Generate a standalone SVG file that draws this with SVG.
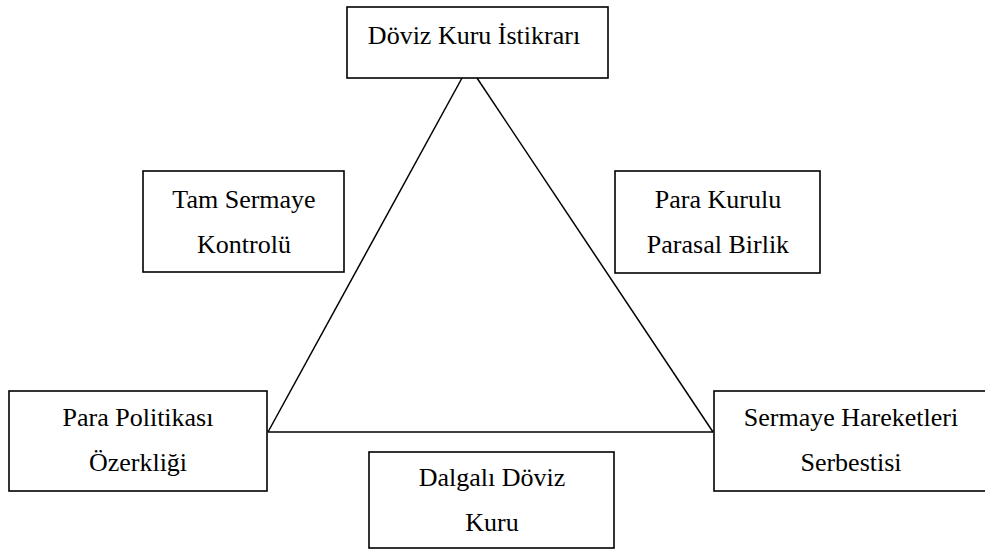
<svg xmlns="http://www.w3.org/2000/svg" width="985" height="550" viewBox="0 0 985 550">
<style>
rect{fill:#fff;stroke:#000;stroke-width:1.6}
line{stroke:#000;stroke-width:1.5}
.t{font-family:'Liberation Serif','Times New Roman',Tinos,'DejaVu Serif',serif;font-size:26px;fill:#000;text-anchor:middle}
</style>
<rect x="0" y="0" width="985" height="550" style="stroke:none"/>
<g id="connectors">
<line x1="462" y1="78" x2="268" y2="432"/>
<line x1="477" y1="78" x2="713" y2="432"/>
<line x1="268" y1="432" x2="713" y2="432"/>
</g>
<g id="top">
<rect x="347" y="7" width="261" height="71"/>
<text class="t" x="474" y="44">Döviz Kuru İstikrarı</text>
</g>
<g id="tam">
<rect x="143" y="171" width="201" height="101"/>
<text class="t" x="244" y="208">Tam Sermaye</text>
<text class="t" x="244" y="253">Kontrolü</text>
</g>
<g id="para-kurulu">
<rect x="615" y="171" width="205" height="102"/>
<text class="t" x="718" y="208">Para Kurulu</text>
<text class="t" x="718" y="253">Parasal Birlik</text>
</g>
<g id="para-politikasi">
<rect x="9" y="391" width="258" height="100"/>
<text class="t" x="138" y="426">Para Politikası</text>
<text class="t" x="138" y="471">Özerkliği</text>
</g>
<g id="sermaye">
<rect x="714" y="391" width="280" height="100"/>
<text class="t" x="851" y="426">Sermaye Hareketleri</text>
<text class="t" x="851" y="471">Serbestisi</text>
</g>
<g id="dalgali">
<rect x="369" y="452" width="245" height="96"/>
<text class="t" x="492" y="486">Dalgalı Döviz</text>
<text class="t" x="492" y="531">Kuru</text>
</g>
</svg>
